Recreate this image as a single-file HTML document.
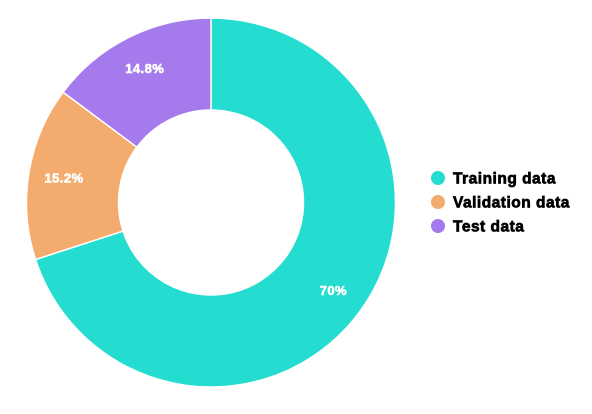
<!DOCTYPE html>
<html><head><meta charset="utf-8"><style>
body{margin:0;background:#fff;width:592px;height:409px;overflow:hidden;font-family:"Liberation Sans",sans-serif}
</style></head><body>
<svg id="chart" width="592" height="409" xmlns="http://www.w3.org/2000/svg"></svg>
<script>
const categories=["Training data","Validation data","Test data"];
const values=[70,15.2,14.8];
const labels=["70%","15.2%","14.8%"];
const colors=["#24ddd0","#f4ac6e","#a57aec"];
const svg=document.getElementById('chart');
const NS="http://www.w3.org/2000/svg";
const cx=211,cy=202.5,R=184.5,r=92.5,LR=150;
const total=values.reduce((a,b)=>a+b,0);
function pt(a,rad){return [cx+rad*Math.sin(a),cy-rad*Math.cos(a)];}
let start=0;
values.forEach((v,i)=>{
  const end=start+v/total*2*Math.PI;
  const large=(end-start)>Math.PI?1:0;
  const [x1,y1]=pt(start,R),[x2,y2]=pt(end,R),[x3,y3]=pt(end,r),[x4,y4]=pt(start,r);
  const p=document.createElementNS(NS,'path');
  p.setAttribute('d',`M${x1},${y1}A${R},${R} 0 ${large} 1 ${x2},${y2}L${x3},${y3}A${r},${r} 0 ${large} 0 ${x4},${y4}Z`);
  p.setAttribute('fill',colors[i]);p.setAttribute('stroke','#fff');p.setAttribute('stroke-width','1.5');
  
  
  svg.appendChild(p);
  const mid=(start+end)/2;const [lx,ly]=pt(mid,LR);
  const t=document.createElementNS(NS,'text');
  t.setAttribute('x',lx+1);t.setAttribute('y',ly+4.5);t.setAttribute('text-anchor','middle');
  t.setAttribute('fill','#fff');t.setAttribute('stroke','#fff');t.setAttribute('stroke-width','0.6');
  t.setAttribute('font-weight','bold');t.setAttribute('font-size','13');t.setAttribute('letter-spacing','0.4');
  t.textContent=labels[i];
  
  
  svg.appendChild(t);
  start=end;
});
categories.forEach((c,i)=>{
  const y=178+i*24;
  const g=document.createElementNS(NS,'g');
  
  
  const ci=document.createElementNS(NS,'circle');
  ci.setAttribute('cx',438);ci.setAttribute('cy',y);ci.setAttribute('r',7);ci.setAttribute('fill',colors[i]);
  const t=document.createElementNS(NS,'text');
  t.setAttribute('x',453);t.setAttribute('y',y+5.5);t.setAttribute('font-size','15.5');t.setAttribute('font-weight','bold');
  t.setAttribute('fill','#000');t.setAttribute('stroke','#000');t.setAttribute('stroke-width','0.7');t.setAttribute('letter-spacing','0.5');
  t.textContent=c;
  g.appendChild(ci);g.appendChild(t);svg.appendChild(g);
});
</script>
</body></html>
